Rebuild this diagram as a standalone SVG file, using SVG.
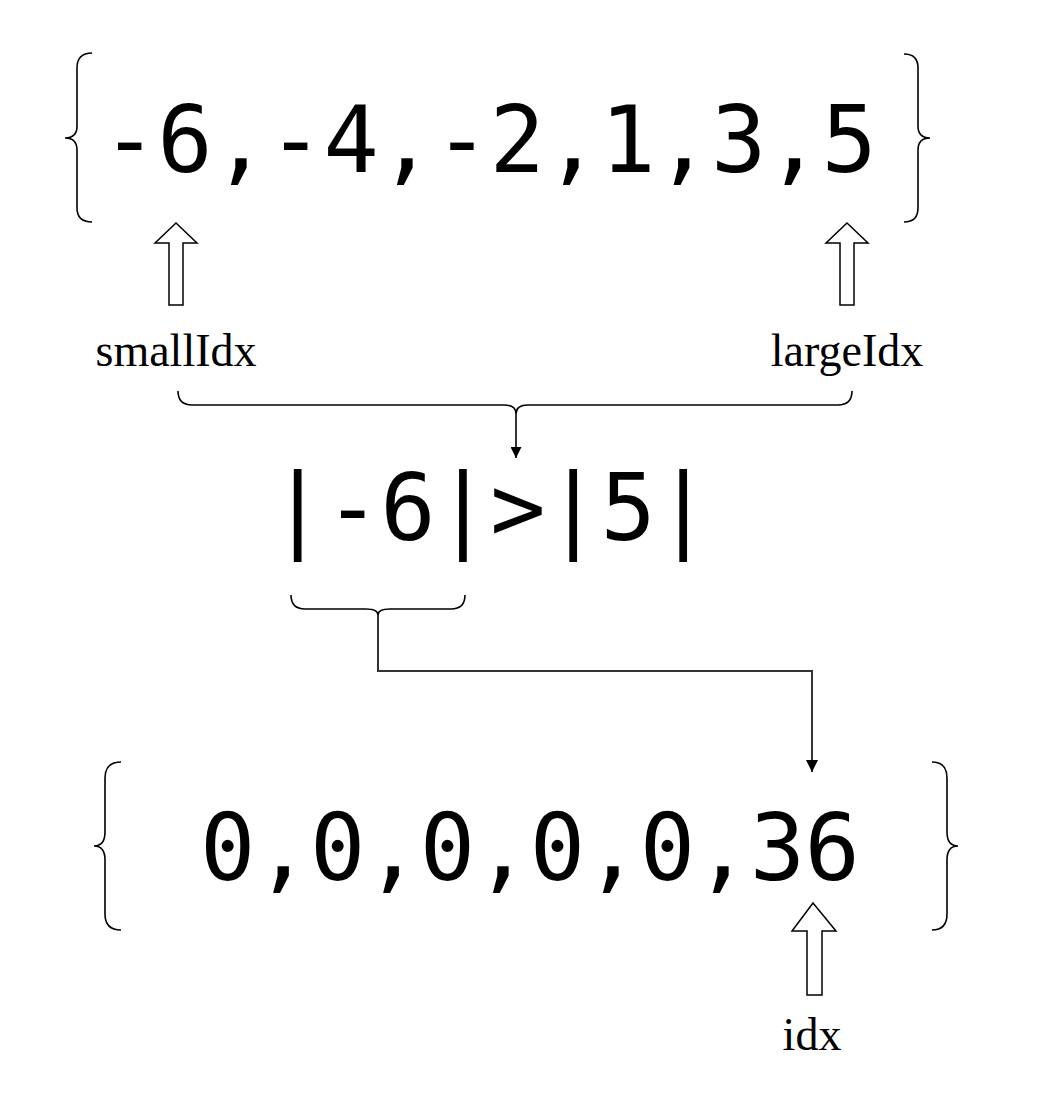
<svg xmlns="http://www.w3.org/2000/svg" width="1052" height="1106" viewBox="0 0 1052 1106">
<style>
.mono{font-family:"DejaVu Sans Mono","Liberation Mono",monospace;font-size:92px;fill:#000}
.lbl{font-family:"Liberation Serif","Times New Roman",serif;font-size:46px;fill:#000;text-anchor:middle}
.brace{fill:none;stroke:#000;stroke-width:1.6}
.hollow{fill:#fff;stroke:#000;stroke-width:1.5;stroke-linejoin:miter}
.conn{fill:none;stroke:#333;stroke-width:2}
</style>
<defs>
<marker id="ah" viewBox="0 0 10 10" refX="10" refY="5" markerWidth="11" markerHeight="11" markerUnits="userSpaceOnUse" orient="auto">
<path d="M0,0 L10,5 L0,10 z" fill="#000"/>
</marker>
<marker id="ah2" viewBox="0 0 10 10" refX="10" refY="5" markerWidth="12" markerHeight="12" markerUnits="userSpaceOnUse" orient="auto">
<path d="M0,0 L10,5 L0,10 z" fill="#000"/>
</marker>
</defs>
<rect width="1052" height="1106" fill="#fff"/>

<g id="input-array">
<path class="brace" d="M92,53 Q77,53 77,68 L77,126 Q77,138 65,138 Q77,138 77,150 L77,208 Q77,222 92,222"/>
<text class="mono" x="102" y="172" textLength="775" lengthAdjust="spacing">-6,-4,-2,1,3,5</text>
<path class="brace" d="M904,54 Q918,54 918,68 L918,126 Q918,138 930,138 Q918,138 918,150 L918,208 Q918,222 904,222"/>
</g>

<g id="smallIdx">
<path class="hollow" d="M176,223 L197,243 L183,243 L183,305 L169,305 L169,243 L155,243 Z"/>
<text class="lbl" x="176" y="366">smallIdx</text>
</g>

<g id="largeIdx">
<path class="hollow" d="M847,223 L868,243 L854,243 L854,305 L840,305 L840,243 L826,243 Z"/>
<text class="lbl" x="847" y="366">largeIdx</text>
</g>

<g id="compare">
<text class="mono" x="270" y="540" textLength="441" lengthAdjust="spacing">|-6|&gt;|5|</text>
</g>

<g id="output-array">
<path class="brace" d="M121,762 Q105,762 105,778 L105,832 Q105,846 94,846 Q105,846 105,860 L105,914 Q105,930 121,930"/>
<text class="mono" x="200" y="880" textLength="660" lengthAdjust="spacing">0,0,0,0,0,36</text>
<path class="brace" d="M932,762 Q947,762 947,778 L947,832 Q947,846 958,846 Q947,846 947,860 L947,914 Q947,930 932,930"/>
</g>

<g id="idx">
<path class="hollow" d="M813,903 L836,931 L822,931 L822,995 L807,995 L807,931 L792,931 Z"/>
<text class="lbl" x="812" y="1050">idx</text>
</g>

<g id="connectors">
<path class="brace" d="M178,391 Q178,405 192,405 L504,405 Q516,405 516,414 Q516,405 528,405 L838,405 Q852,405 852,391"/>
<line class="brace" x1="516" y1="414" x2="516" y2="458" marker-end="url(#ah)"/>
<path class="brace" d="M291,595 Q291,609 305,609 L366,609 Q378,609 378,615 Q378,609 390,609 L451,609 Q465,609 465,595"/>
<path class="conn" d="M378,615 L378,671 L812,671 L812,772" marker-end="url(#ah2)"/>
</g>
</svg>
